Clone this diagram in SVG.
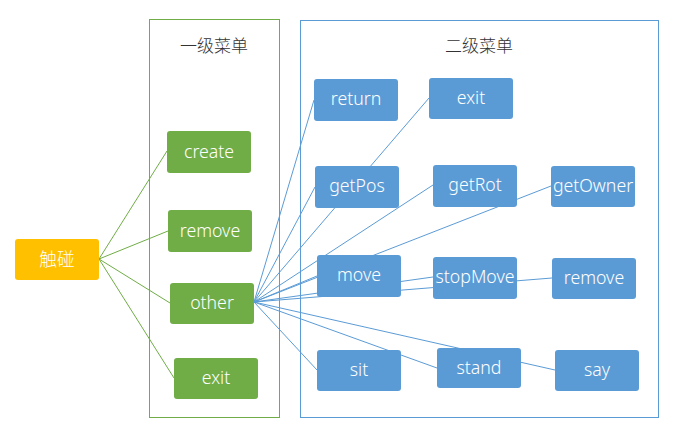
<svg xmlns="http://www.w3.org/2000/svg" width="687" height="440" viewBox="0 0 687 440">
<style>
.g{fill:#70AD47}
.b{fill:#5B9BD5}
.o{fill:#FFC000}
.t{fill:#fff;font-family:"Noto Sans","Noto Sans CJK SC",sans-serif;font-size:17.7px;font-weight:300;text-anchor:middle;dominant-baseline:central}
.h{fill:#333;font-family:"Noto Sans CJK SC","Noto Sans",sans-serif;font-size:17px;font-weight:300;text-anchor:middle;dominant-baseline:central}
.gl{stroke:#70AD47;stroke-width:1;fill:none}
.bl{stroke:#5B9BD5;stroke-width:1;fill:none}
</style>
<rect width="687" height="440" fill="#fff"/>
<g id="container1">
<rect x="149.5" y="19.5" width="130" height="398" class="gl"/>
<text x="214" y="44" class="h">一级菜单</text>
</g>
<g id="container2">
<rect x="300.5" y="20.5" width="358" height="397" class="bl"/>
<text x="479" y="44" class="h">二级菜单</text>
</g>
<g id="connectors">
<line x1="99" y1="259" x2="167" y2="151" class="gl"/>
<line x1="99" y1="259" x2="168" y2="231" class="gl"/>
<line x1="99" y1="259" x2="170" y2="303" class="gl"/>
<line x1="99" y1="259" x2="174" y2="378" class="gl"/>
<line x1="254" y1="302" x2="314" y2="100" class="bl"/>
<line x1="254" y1="302" x2="429" y2="98" class="bl"/>
<line x1="254" y1="302" x2="315" y2="187" class="bl"/>
<line x1="254" y1="302" x2="433" y2="185" class="bl"/>
<line x1="254" y1="302" x2="551" y2="186" class="bl"/>
<line x1="254" y1="302" x2="317" y2="276" class="bl"/>
<line x1="254" y1="302" x2="433" y2="277" class="bl"/>
<line x1="254" y1="302" x2="552" y2="278" class="bl"/>
<line x1="254" y1="302" x2="317" y2="370" class="bl"/>
<line x1="254" y1="302" x2="437" y2="368" class="bl"/>
<line x1="254" y1="302" x2="555" y2="370" class="bl"/>
</g>
<g id="n-touch"><rect x="15" y="239" width="84" height="41" rx="3" class="o"/><text x="57" y="258.5" class="t">触碰</text></g>
<g id="n-create"><rect x="167" y="131" width="84" height="42" rx="3" class="g"/><text x="209" y="150.5" class="t">create</text></g>
<g id="n-remove1"><rect x="168" y="210" width="84" height="42" rx="3" class="g"/><text x="210" y="229.5" class="t">remove</text></g>
<g id="n-other"><rect x="170" y="283" width="84" height="41" rx="3" class="g"/><text x="212" y="301.5" class="t">other</text></g>
<g id="n-exit1"><rect x="174" y="358" width="84" height="41" rx="3" class="g"/><text x="216" y="376.5" class="t">exit</text></g>
<g id="n-return"><rect x="314" y="79" width="84" height="42" rx="3" class="b"/><text x="356" y="98" class="t">return</text></g>
<g id="n-exit2"><rect x="429" y="78" width="84" height="41" rx="3" class="b"/><text x="471" y="96.5" class="t">exit</text></g>
<g id="n-getPos"><rect x="315" y="166" width="84" height="42" rx="3" class="b"/><text x="357" y="185" class="t">getPos</text></g>
<g id="n-getRot"><rect x="433" y="165" width="84" height="42" rx="3" class="b"/><text x="475" y="184" class="t">getRot</text></g>
<g id="n-getOwner"><rect x="551" y="166" width="84" height="41" rx="3" class="b"/><text x="593" y="185" class="t">getOwner</text></g>
<g id="n-move"><rect x="317" y="255" width="84" height="42" rx="3" class="b"/><text x="359" y="273.5" class="t">move</text></g>
<g id="n-stopMove"><rect x="433" y="257" width="84" height="42" rx="3" class="b"/><text x="475" y="276" class="t">stopMove</text></g>
<g id="n-remove2"><rect x="552" y="258" width="84" height="41" rx="3" class="b"/><text x="594" y="277" class="t">remove</text></g>
<g id="n-sit"><rect x="317" y="350" width="84" height="41" rx="3" class="b"/><text x="359" y="369" class="t">sit</text></g>
<g id="n-stand"><rect x="437" y="348" width="84" height="40" rx="3" class="b"/><text x="479" y="366.5" class="t">stand</text></g>
<g id="n-say"><rect x="555" y="350" width="84" height="41" rx="3" class="b"/><text x="597" y="369" class="t">say</text></g>
</svg>
